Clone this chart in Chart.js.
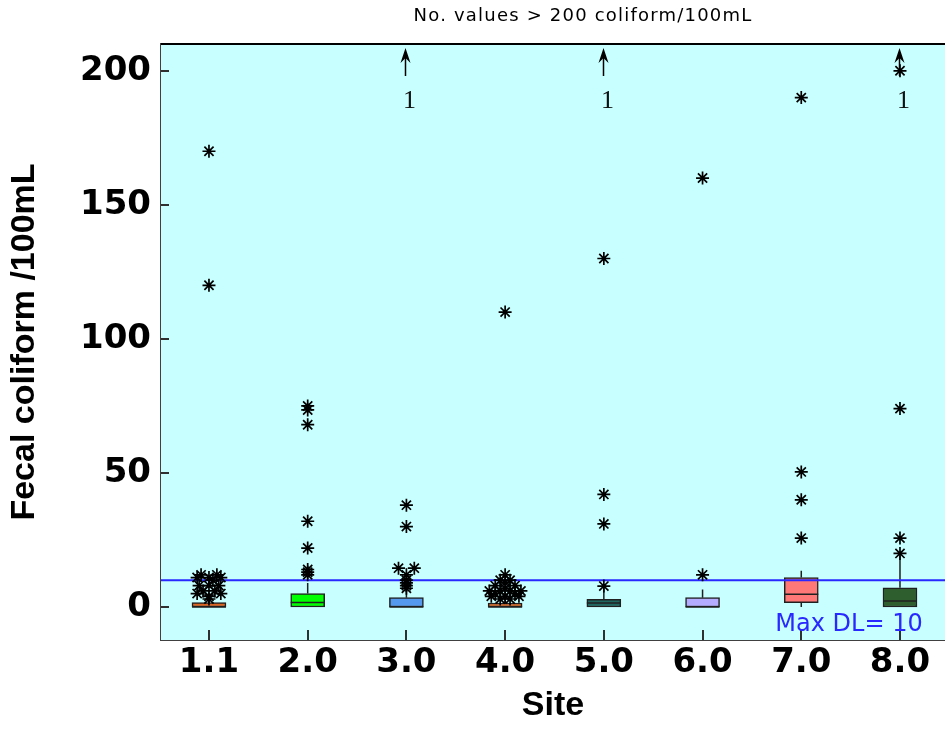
<!DOCTYPE html>
<html>
<head>
<meta charset="utf-8">
<script src="https://cdn.jsdelivr.net/npm/chart.js@4/dist/chart.umd.min.js"></script>
<style>
  html, body { margin: 0; padding: 0; background: #ffffff; overflow: hidden; }
  #wrap { width: 945px; height: 730px; }
</style>
</head>
<body>
<div id="wrap"><canvas id="c" width="945" height="730"></canvas></div>
<script>
// Fecal coliform by site: box plots with outliers and a detection-limit line
const sites = ['1.1', '2.0', '3.0', '4.0', '5.0', '6.0', '7.0', '8.0'];
const q1 = [0, 0, 0, 0, 0, 0, 1.6, 0];
const q3 = [1.7, 5, 3.5, 1.5, 2.9, 3.5, 11, 7.2];
const medians = [0, 1.7, 0, 0, 1.5, 0, 4.8, 2.2];
const whiskerLow = [0, 0, 0, 0, 0, 0, 0, 0];
const whiskerHigh = [3, 9, 9, 3, 7.5, 6.5, 13.5, 19];
const boxColors = ['#DC6420', '#00FF00', '#5599EE', '#E06A22', '#1E6660', '#B4ACFF', '#FF7878', '#2E5E2E'];

// Outlier values per site, with a small horizontal spread (in site units) for crowded points
const outlierValues = [
  [12, 12, 11, 11, 11, 10, 8, 8, 8, 6, 6, 5, 5, 4, 3, 120, 170],
  [12, 13, 14, 22, 32, 68, 73.5, 75],
  [14.5, 14.5, 12, 10, 9, 8, 7, 30, 38],
  [12, 10, 10, 9, 8, 8, 7, 6, 6, 6, 6, 5, 5, 4, 4, 4, 3, 3, 110],
  [7.8, 31, 42, 130],
  [12, 160],
  [25.7, 40, 50.4, 190],
  [20, 25.7, 74, 200]
];
const outlierSpread = [
  [-0.08, 0.08, -0.12, 0.12, 0, 0.04, -0.1, 0.1, 0, -0.06, 0.06, -0.12, 0.12, 0, 0, 0, 0],
  [0, 0, 0, 0, 0, 0, 0, 0],
  [-0.08, 0.08, 0, 0, 0, 0, 0, 0, 0],
  [0, -0.05, 0.05, 0, -0.1, 0.1, 0, -0.16, 0.16, -0.05, 0.05, -0.1, 0.1, -0.14, 0.14, 0, -0.05, 0.05, 0],
  [0, 0, 0, 0],
  [0, 0],
  [0, 0, 0, 0],
  [0, 0, 0, 0]
];
const countAbove200 = [0, 0, 1, 0, 1, 0, 0, 1];
const detectionLimit = 10;
const yTicks = [0, 50, 100, 150, 200];
const yMin = -12.3, yMax = 210;
const xMin = 0.514, xMax = 8.456;

// Chart.js datasets built from the arrays above
const boxData = sites.map((s, i) => ({ x: i + 1, y: [q1[i], q3[i]] }));
const medianData = sites.map((s, i) => ({ x: i + 1, y: medians[i] }));
const whiskerData = [];
sites.forEach((s, i) => {
  if (whiskerHigh[i] > q3[i]) {
    whiskerData.push({ x: i + 1, y: q3[i] }, { x: i + 1, y: whiskerHigh[i] }, { x: i + 1, y: null });
  }
  if (whiskerLow[i] < q1[i]) {
    whiskerData.push({ x: i + 1, y: whiskerLow[i] }, { x: i + 1, y: q1[i] }, { x: i + 1, y: null });
  }
});
const outlierData = [];
outlierValues.forEach((vals, i) => {
  vals.forEach((v, j) => outlierData.push({ x: i + 1 + outlierSpread[i][j], y: v }));
});
const dlData = [{ x: xMin, y: detectionLimit }, { x: xMax, y: detectionLimit }];

const plotDecor = {
  id: 'plotDecor',
  beforeDatasetsDraw(chart) {
    const { ctx, chartArea: a } = chart;
    ctx.save();
    ctx.fillStyle = '#C8FFFF';
    ctx.fillRect(a.left, a.top, a.right - a.left, a.bottom - a.top);
    ctx.restore();
  },
  afterDraw(chart) {
    const { ctx, chartArea: a, scales } = chart;
    const xs = scales.x, ys = scales.y;
    ctx.save();
    // frame: top edge
    ctx.strokeStyle = '#000000';
    ctx.lineWidth = 2;
    ctx.beginPath();
    ctx.moveTo(a.left, a.top);
    ctx.lineTo(a.right, a.top);
    ctx.stroke();
    // inward tick marks
    ctx.strokeStyle = '#303030';
    ctx.lineWidth = 2;
    yTicks.forEach(v => {
      const y = Math.round(ys.getPixelForValue(v));
      ctx.beginPath();
      ctx.moveTo(a.left, y);
      ctx.lineTo(a.left + 8, y);
      ctx.stroke();
    });
    sites.forEach((s, i) => {
      const x = Math.round(xs.getPixelForValue(i + 1));
      ctx.beginPath();
      ctx.moveTo(x, a.bottom);
      ctx.lineTo(x, a.bottom - 10);
      ctx.stroke();
    });
    // arrows for values above the axis maximum, with their counts
    countAbove200.forEach((n, i) => {
      if (!n) return;
      const x = Math.round(xs.getPixelForValue(i + 1)) - 0.5;
      const t = a.top + 4;
      ctx.strokeStyle = '#000000';
      ctx.fillStyle = '#000000';
      ctx.lineWidth = 1.5;
      ctx.beginPath();
      ctx.moveTo(x, t + 6);
      ctx.lineTo(x, t + 28);
      ctx.stroke();
      ctx.beginPath();
      ctx.moveTo(x, t);
      ctx.lineTo(x - 5, t + 15);
      ctx.lineTo(x, t + 10);
      ctx.lineTo(x + 5, t + 15);
      ctx.closePath();
      ctx.fill();
      ctx.font = '26px "Liberation Serif"';
      ctx.textAlign = 'center';
      ctx.textBaseline = 'middle';
      ctx.fillStyle = '#101010';
      ctx.fillText(String(n), x + 4, a.top + 57);
    });
    // detection limit label
    ctx.font = '24px "DejaVu Sans"';
    ctx.fillStyle = '#2828FF';
    ctx.textAlign = 'center';
    ctx.textBaseline = 'middle';
    ctx.fillText('Max DL= ' + detectionLimit, a.right - 96, ys.getPixelForValue(detectionLimit) + 45);
    // heading
    ctx.font = '18px "DejaVu Sans"';
    ctx.letterSpacing = '1.2px';
    ctx.fillStyle = '#000000';
    ctx.fillText('No. values > 200 coliform/100mL', 583, 16);
    ctx.restore();
  }
};

new Chart(document.getElementById('c'), {
  type: 'bar',
  data: {
    datasets: [
      {
        type: 'scatter',
        data: outlierData,
        pointStyle: 'star',
        pointRadius: 6.5,
        pointBorderColor: '#000000',
        pointBackgroundColor: 'rgba(0,0,0,0)',
        pointBorderWidth: 1.7,
        order: 0
      },
      {
        type: 'line',
        data: dlData,
        borderColor: '#2828FF',
        borderWidth: 2,
        pointRadius: 0,
        order: 1
      },
      {
        type: 'scatter',
        data: medianData,
        pointStyle: 'line',
        pointRadius: 17,
        pointBorderColor: '#202020',
        pointBorderWidth: 1.5,
        order: 2
      },
      {
        type: 'bar',
        data: boxData,
        backgroundColor: boxColors,
        borderColor: '#202020',
        borderWidth: 1.5,
        borderSkipped: false,
        barThickness: 34,
        order: 3
      },
      {
        type: 'line',
        data: whiskerData,
        borderColor: '#202020',
        borderWidth: 1.5,
        pointRadius: 0,
        spanGaps: false,
        order: 4
      }
    ]
  },
  options: {
    responsive: false,
    animation: false,
    devicePixelRatio: 1,
    layout: { autoPadding: false, padding: { top: 44, left: 0, right: 0, bottom: 0 } },
    plugins: { legend: { display: false }, tooltip: { enabled: false }, title: { display: false } },
    scales: {
      x: {
        type: 'linear',
        offset: false,
        min: xMin,
        max: xMax,
        afterBuildTicks: s => { s.ticks = sites.map((_, i) => ({ value: i + 1 })); },
        afterFit: s => { s.height = 90; s.paddingLeft = 0; s.paddingRight = 0; },
        ticks: {
          callback: (v, i) => sites[i],
          color: '#000000',
          font: { family: '"DejaVu Sans"', weight: 'bold', size: 34 },
          padding: 3,
          maxRotation: 0,
          autoSkip: false
        },
        grid: { display: false, drawTicks: false, offset: false },
        border: { display: true, color: '#404040', width: 2 },
        title: {
          display: true,
          text: 'Site',
          color: '#000000',
          font: { family: '"Liberation Sans"', weight: 'bold', size: 34 },
          padding: { top: 2, bottom: 4 }
        }
      },
      y: {
        type: 'linear',
        min: yMin,
        max: yMax,
        afterBuildTicks: s => { s.ticks = yTicks.map(v => ({ value: v })); },
        afterFit: s => { s.width = 161; },
        ticks: {
          color: '#000000',
          font: { family: '"DejaVu Sans"', weight: 'bold', size: 34 },
          padding: 10
        },
        grid: { display: false, drawTicks: false },
        border: { display: true, color: '#404040', width: 2 },
        title: {
          display: true,
          text: 'Fecal coliform /100mL',
          color: '#000000',
          font: { family: '"Liberation Sans"', weight: 'bold', size: 34 },
          padding: { top: 4, bottom: 0 }
        }
      }
    }
  },
  plugins: [plotDecor]
});
</script>
</body>
</html>
